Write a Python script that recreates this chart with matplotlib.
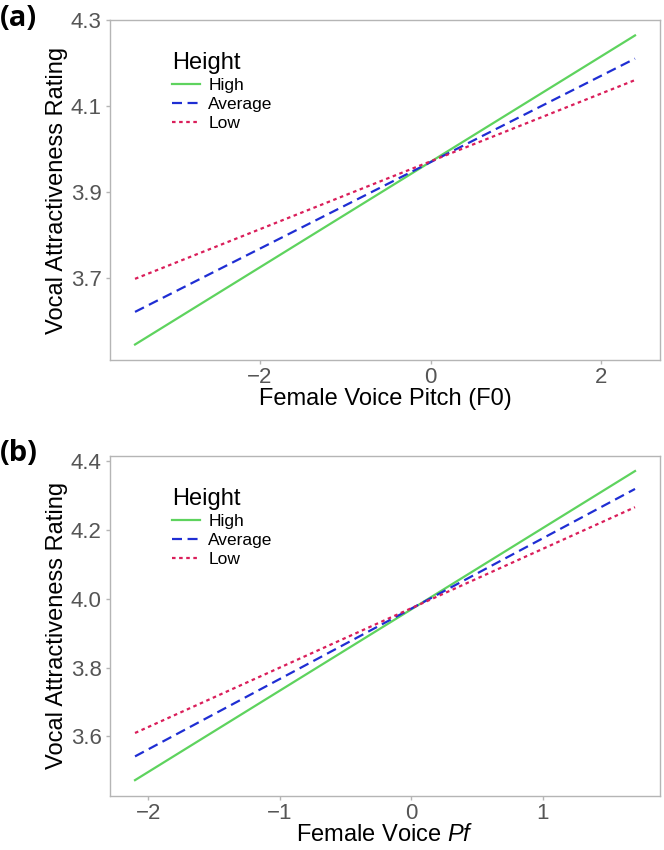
import matplotlib
matplotlib.use("Agg")
from matplotlib import pyplot as plt

plt.rcParams['font.family'] = ['Liberation Sans', 'DejaVu Sans']
plt.rcParams['mathtext.fontset'] = 'custom'
plt.rcParams['mathtext.it'] = 'Liberation Sans:italic'
plt.rcParams['mathtext.rm'] = 'Liberation Sans'

groups = ["High", "Average", "Low"]
colors = ["#5ED35E", "#1F2ED3", "#DA1E5A"]
styles = ["-", (0, (4.5, 2.5)), (0, (1.6, 1.6))]

# panel (a): line endpoints
xa = [-3.465, 2.395]
ya = {"High": [3.545, 4.265], "Average": [3.621, 4.211], "Low": [3.698, 4.161]}
xticks_a = [-2, 0, 2]
yticks_a = [3.7, 3.9, 4.1, 4.3]

# panel (b): line endpoints
xb = [-2.10, 1.70]
yb = {"High": [3.473, 4.371], "Average": [3.542, 4.319], "Low": [3.610, 4.266]}
xticks_b = [-2, -1, 0, 1]
yticks_b = [3.6, 3.8, 4.0, 4.2, 4.4]

fig = plt.figure(figsize=(6.64, 8.5), dpi=100)
ax1 = fig.add_axes([0.1657, 0.5765, 0.8283, 0.4000])
ax2 = fig.add_axes([0.1657, 0.0640, 0.8283, 0.4000])


def draw(ax, x, ys, xt, yt, xlab, tag):
    for g, c, s in zip(groups, colors, styles):
        ax.plot(x, ys[g], color=c, linestyle=s, lw=1.6, label=g)
    span = x[1] - x[0]
    ax.set_xlim(x[0] - span * 0.05, x[1] + span * 0.05)
    lo = min(min(v) for v in ys.values())
    hi = max(max(v) for v in ys.values())
    ax.set_ylim(lo - (hi - lo) * 0.05, hi + (hi - lo) * 0.05)
    ax.set_xticks(xt)
    ax.set_xticklabels([str(v).replace('-', '\u2212') for v in xt])
    ax.set_yticks(yt)
    ax.set_yticklabels(['%.1f' % v for v in yt])
    for sp in ax.spines.values():
        sp.set_color('#B5B5B5')
        sp.set_linewidth(1.0)
    ax.tick_params(colors='#B5B5B5', labelcolor='#555555', labelsize=16,
                   length=3, width=1, pad=3)
    ax.tick_params(axis='x', pad=2)
    ax.set_xlabel(xlab, fontsize=17, labelpad=0)
    ax.set_ylabel("Vocal Attractiveness Rating", fontsize=17, labelpad=2)
    ax.legend(loc='upper left', bbox_to_anchor=(0.1, 0.925), frameon=False,
              title="Height", title_fontsize=17, fontsize=12.5,
              handlelength=1.6, handletextpad=0.5, labelspacing=0.22,
              alignment='left', borderaxespad=0)
    fig.text(0.0, ax.get_position().y1 + 0.002, tag, fontsize=21, fontweight='bold',
             family='Open Sans', va='center', ha='left')


draw(ax1, xa, ya, xticks_a, yticks_a, "Female Voice Pitch (F0)", "(a)")
draw(ax2, xb, yb, xticks_b, yticks_b, "Female Voice $\\it{Pf}$", "(b)")

fig.savefig("out.png", dpi=100)
